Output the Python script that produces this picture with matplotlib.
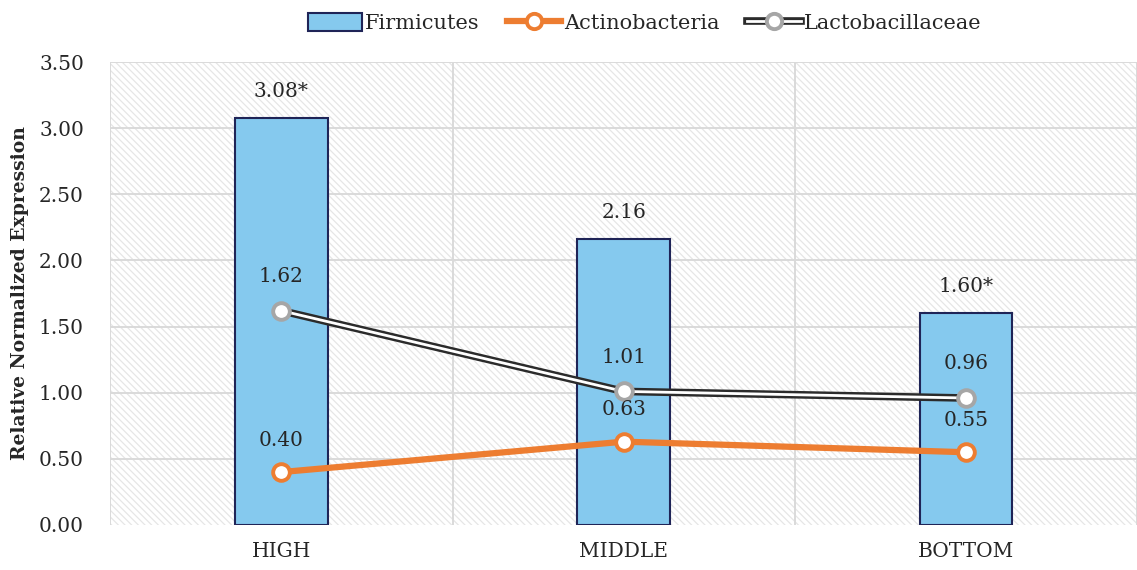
import matplotlib.pyplot as plt
from matplotlib.patches import Rectangle
from matplotlib.lines import Line2D

plt.rcParams['font.family'] = ['DejaVu Serif']
plt.rcParams['hatch.linewidth'] = 0.9

categories = ['HIGH', 'MIDDLE', 'BOTTOM']
firmicutes = [3.08, 2.16, 1.60]
actino = [0.40, 0.63, 0.55]
lacto = [1.62, 1.01, 0.96]
firm_labels = ['3.08*', '2.16', '1.60*']

x = list(range(len(categories)))
txt = '#262626'
fs = 14.5

fig = plt.figure(figsize=(11.37, 5.70), dpi=100)
ax = fig.add_axes([0.097, 0.079, 0.903, 0.812])
ax.set_xlim(-0.5, 2.5)
ax.set_ylim(0, 3.5)

# hatched background
ax.add_patch(Rectangle((0, 0), 1, 1, transform=ax.transAxes, facecolor='white',
                       edgecolor='#e6e6e6', hatch='\\\\\\\\\\', linewidth=0, zorder=0))
for yv in [0.5, 1, 1.5, 2, 2.5, 3, 3.5]:
    ax.axhline(yv, color='#dadada', lw=1.4, zorder=1)
for xv in [-0.5, 0.5, 1.5, 2.5]:
    ax.axvline(xv, color='#dadada', lw=1.4, zorder=1)

ax.bar(x, firmicutes, width=0.27, color='#85C9EE', edgecolor='#1F2457', linewidth=1.5, zorder=2)

# Lactobacillaceae: double line (dark outer, white core)
ax.plot(x, lacto, color='#2b2b2b', lw=5.5, zorder=3, solid_capstyle='butt')
ax.plot(x, lacto, color='white', lw=2, zorder=3.1, solid_capstyle='butt')
ax.plot(x, lacto, ls='none', marker='o', ms=12, mfc='white', mec='#a6a6a6', mew=2.8, zorder=4)

ax.plot(x, actino, color='#ED7D31', lw=4.5, marker='o', ms=12, mfc='white', mec='#ED7D31', mew=2.8, zorder=4)

for i in x:
    ax.text(i, firmicutes[i] + 0.2, firm_labels[i], ha='center', va='center', fontsize=fs, color=txt, zorder=5)
    ax.text(i, lacto[i] + 0.26, f'{lacto[i]:.2f}', ha='center', va='center', fontsize=fs, color=txt, zorder=5)
    ax.text(i, actino[i] + 0.24, f'{actino[i]:.2f}', ha='center', va='center', fontsize=fs, color=txt, zorder=5)

ax.set_xticks(x)
ax.set_xticklabels(categories, fontsize=fs, color=txt)
ax.set_yticks([0, 0.5, 1, 1.5, 2, 2.5, 3, 3.5])
ax.set_yticklabels([f'{v:.2f}' for v in [0, 0.5, 1, 1.5, 2, 2.5, 3, 3.5]], fontsize=fs, color=txt)
ax.tick_params(axis='y', length=0, pad=19)
ax.tick_params(axis='x', length=0, pad=12)
for s in ax.spines.values():
    s.set_visible(False)
ax.set_ylabel('Relative Normalized Expression', fontsize=13.5, fontweight='bold', labelpad=7, color=txt)

# legend
h_firm = Rectangle((0, 0), 1, 1, facecolor='#85C9EE', edgecolor='#1F2457', linewidth=1.5)
h_act = Line2D([], [], color='#ED7D31', lw=4.5, marker='o', ms=11, mfc='white', mec='#ED7D31', mew=2.8)
h_lac = (Line2D([], [], color='#2b2b2b', lw=5.5),
         Line2D([], [], color='white', lw=2),
         Line2D([], [], ls='none', marker='o', ms=11, mfc='white', mec='#a6a6a6', mew=2.8))
fig.legend([h_firm, h_act, h_lac], ['Firmicutes', 'Actinobacteria', 'Lactobacillaceae'],
           loc='center', bbox_to_anchor=(0.567, 0.960), ncol=3, frameon=False, fontsize=15,
           handlelength=2.6, handleheight=1.0, handletextpad=0.15, columnspacing=1.3)
for t in fig.legends[0].get_texts():
    t.set_color(txt)

fig.savefig('out.png', dpi=100)
